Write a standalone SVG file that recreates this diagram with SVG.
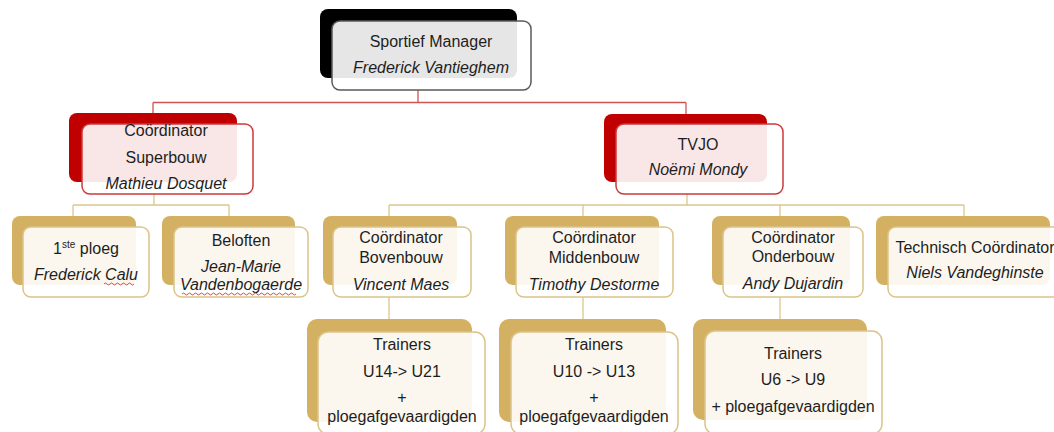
<svg xmlns="http://www.w3.org/2000/svg" width="1054" height="432" viewBox="0 0 1054 432">
<style>
.t{font-family:"Liberation Sans",Arial,sans-serif;font-size:16px;fill:#1e1e1e;text-anchor:middle}
.i{font-style:italic}
.fr{fill:#fff;fill-opacity:0.9;stroke-width:1.5}
.cr{fill:none;stroke:#cf5555;stroke-width:1.3}
.cg{fill:none;stroke:#dcc68e;stroke-width:1.3}
.bk{fill:#000}.rd{fill:#c00000}.gd{fill:#d4b162}
.sk{stroke:#595959}.sr{stroke:#cc3a3a}.sg{stroke:#dcc48a}
.sq{fill:none;stroke:#e03030;stroke-width:0.9}
</style>
<rect width="1054" height="432" fill="#fff"/>
<g id="connectors">
<path class="cr" d="M418 90V102.5M153 102.5H686M153 102.5V114M686 102.5V114"/>
<path class="cg" d="M154 194V205M73 205H229M73 205V216M229 205V216"/>
<path class="cg" d="M687 194V205M389 205H964M389 205V216M583 205V216M780 205V216M964 205V216"/>
<path class="cg" d="M389 297V319M583 297V319M780 297V319"/>
</g>
<g id="sportief-manager">
<rect class="bk" x="320" y="9" width="197" height="69" rx="8"/>
<rect class="fr sk" x="332" y="21" width="199" height="69" rx="8"/>
<text class="t" x="431" y="47">Sportief Manager</text>
<text class="t i" x="431" y="73">Frederick Vantieghem</text>
</g>
<g id="coordinator-superbouw">
<rect class="rd" x="69" y="113" width="168" height="69" rx="8"/>
<rect class="fr sr" x="82" y="124" width="171" height="70" rx="8"/>
<text class="t" x="166" y="136">Coördinator</text>
<text class="t" x="166" y="163">Superbouw</text>
<text class="t i" x="166" y="189">Mathieu Dosquet</text>
</g>
<g id="tvjo">
<rect class="rd" x="604" y="114" width="163" height="68" rx="8"/>
<rect class="fr sr" x="616" y="124" width="167" height="70" rx="8"/>
<text class="t" x="698" y="150">TVJO</text>
<text class="t i" x="698" y="175">Noëmi Mondy</text>
</g>
<g id="eerste-ploeg">
<rect class="gd" x="12" y="216" width="124" height="69" rx="8"/>
<rect class="fr sg" x="23" y="227" width="126" height="70" rx="8"/>
<text class="t" x="86" y="254">1<tspan font-size="10" dy="-6">ste</tspan><tspan dy="6"> ploeg</tspan></text>
<text class="t i" x="86" y="280">Frederick Calu</text>
<path class="sq" d="M104 284q1.5-2 3 0t3 0t3 0t3 0t3 0t3 0t3 0t3 0t3 0t3 0"/>
</g>
<g id="beloften">
<rect class="gd" x="162" y="216" width="133" height="69" rx="8"/>
<rect class="fr sg" x="174" y="227" width="134" height="70" rx="8"/>
<text class="t" x="241" y="246">Beloften</text>
<text class="t i" x="241" y="272">Jean-Marie</text>
<text class="t i" x="241" y="290">Vandenbogaerde</text>
<path class="sq" d="M182 294q1.5-2 3 0t3 0t3 0t3 0t3 0t3 0t3 0t3 0t3 0t3 0t3 0t3 0t3 0t3 0t3 0t3 0t3 0t3 0t3 0t3 0t3 0t3 0t3 0t3 0t3 0t3 0t3 0t3 0t3 0t3 0t3 0t3 0t3 0t3 0t3 0t3 0t3 0t3 0"/>
</g>
<g id="coordinator-bovenbouw">
<rect class="gd" x="323" y="216" width="134" height="69" rx="8"/>
<rect class="fr sg" x="333" y="227" width="138" height="70" rx="8"/>
<text class="t" x="401" y="243">Coördinator</text>
<text class="t" x="401" y="263">Bovenbouw</text>
<text class="t i" x="401" y="290">Vincent Maes</text>
</g>
<g id="coordinator-middenbouw">
<rect class="gd" x="505" y="216" width="154" height="69" rx="8"/>
<rect class="fr sg" x="516" y="227" width="157" height="70" rx="8"/>
<text class="t" x="594" y="243">Coördinator</text>
<text class="t" x="594" y="263">Middenbouw</text>
<text class="t i" x="594" y="290">Timothy Destorme</text>
</g>
<g id="coordinator-onderbouw">
<rect class="gd" x="712" y="216" width="138" height="69" rx="8"/>
<rect class="fr sg" x="723" y="227" width="140" height="70" rx="8"/>
<text class="t" x="793" y="243">Coördinator</text>
<text class="t" x="793" y="262">Onderbouw</text>
<text class="t i" x="793" y="289">Andy Dujardin</text>
</g>
<g id="technisch-coordinator">
<rect class="gd" x="876" y="216" width="174" height="69" rx="8"/>
<rect class="fr sg" x="888" y="227" width="174" height="70" rx="8"/>
<text class="t" x="975" y="253">Technisch Coördinator</text>
<text class="t i" x="975" y="278">Niels Vandeghinste</text>
</g>
<g id="trainers-u14-u21">
<rect class="gd" x="307" y="319" width="165" height="103" rx="10"/>
<rect class="fr sg" x="318" y="332" width="167" height="102" rx="10"/>
<text class="t" x="402" y="350">Trainers</text>
<text class="t" x="402" y="377">U14-&gt; U21</text>
<text class="t" x="402" y="403">+</text>
<text class="t" x="402" y="422">ploegafgevaardigden</text>
</g>
<g id="trainers-u10-u13">
<rect class="gd" x="499" y="319" width="167" height="103" rx="10"/>
<rect class="fr sg" x="511" y="332" width="167" height="102" rx="10"/>
<text class="t" x="594" y="350">Trainers</text>
<text class="t" x="594" y="377">U10 -&gt; U13</text>
<text class="t" x="594" y="403">+</text>
<text class="t" x="594" y="422">ploegafgevaardigden</text>
</g>
<g id="trainers-u6-u9">
<rect class="gd" x="693" y="319" width="174" height="101" rx="10"/>
<rect class="fr sg" x="705" y="331" width="177" height="103" rx="10"/>
<text class="t" x="793" y="359">Trainers</text>
<text class="t" x="793" y="385">U6 -&gt; U9</text>
<text class="t" x="793" y="412">+ ploegafgevaardigden</text>
</g>
</svg>
